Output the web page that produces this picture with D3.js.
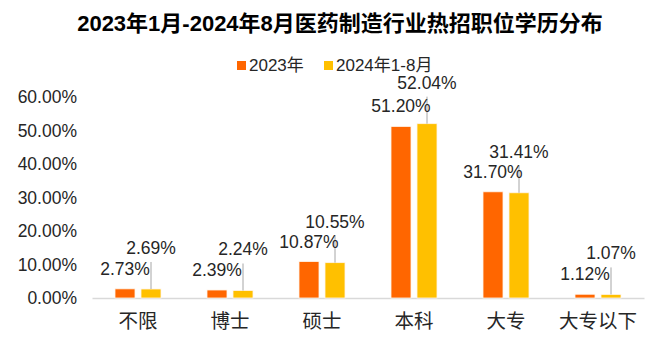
<!DOCTYPE html>
<html>
<head>
<meta charset="utf-8">
<script src="https://cdn.jsdelivr.net/npm/d3@7"></script>
<style>
  body { margin: 0; background: #fff; }
  svg text { font-family: "Liberation Sans", Arial, "Noto Sans CJK SC", sans-serif; }
</style>
</head>
<body>
<div class="chart"></div>
<script>
// data
const categories = ["不限", "博士", "硕士", "本科", "大专", "大专以下"];
const seriesNames = ["2023年", "2024年1-8月"];
const values2023 = [2.73, 2.39, 10.87, 51.20, 31.70, 1.12];
const values2024 = [2.69, 2.24, 10.55, 52.04, 31.41, 1.07];
const yTicks = [0, 10, 20, 30, 40, 50, 60];
const colors = ["#FF6600", "#FFC000"];

const width = 668, height = 349;
const margin = {top: 97, right: 24, bottom: 51, left: 92};

const svg = d3.select(".chart")
              .append("svg")
              .attr("width", width)
              .attr("height", height);

// title
svg.append("text")
   .attr("x", 340)
   .attr("y", 31)
   .attr("text-anchor", "middle")
   .attr("font-size", 22)
   .attr("font-weight", "bold")
   .attr("fill", "#000")
   .text("2023年1月-2024年8月医药制造行业热招职位学历分布");

// legend
const legend = svg.append("g").attr("transform", "translate(237, 65)");
const legendX = [0, 87];
seriesNames.forEach((name, i) => {
    const g = legend.append("g").attr("transform", `translate(${legendX[i]},0)`);
    g.append("rect")
     .attr("x", 0).attr("y", -4)
     .attr("width", 9).attr("height", 9)
     .attr("fill", colors[i]);
    g.append("text")
     .attr("x", 12).attr("y", 0)
     .attr("dy", "0.35em")
     .attr("font-size", 17)
     .attr("fill", "#262626")
     .text(name);
});

const x0 = d3.scaleBand()
             .domain(categories)
             .range([margin.left, width - margin.right]);
const groupW = 46;
const x1 = d3.scaleBand()
             .domain(seriesNames)
             .range([0, groupW])
             .paddingInner(6 / 26);
const y = d3.scaleLinear()
            .domain([0, 60])
            .range([height - margin.bottom, margin.top]);

// y axis labels
const yAxis = d3.axisLeft(y)
                .tickValues(yTicks)
                .tickSize(0)
                .tickPadding(0)
                .tickFormat(d => d.toFixed(2) + "%");
const gy = svg.append("g")
              .attr("transform", `translate(77,0)`)
              .call(yAxis);
gy.select(".domain").remove();
gy.selectAll("text")
  .attr("font-size", 17.5)
  .attr("fill", "#262626");

// x axis
const xAxis = d3.axisBottom(x0).tickSize(0).tickPadding(16);
const gx = svg.append("g")
              .attr("transform", `translate(0,${y(0)})`)
              .call(xAxis);
gx.select(".domain").attr("stroke", "#d9d9d9").attr("stroke-width", 1.5);
gx.selectAll("text")
  .attr("font-size", 19.5)
  .attr("fill", "#262626");

// bars
const series = [values2023, values2024];
const offset = (x0.bandwidth() - groupW) / 2;
series.forEach((vals, si) => {
    const g = svg.append("g");
    g.selectAll("rect")
     .data(vals)
     .join("rect")
     .attr("x", (d, i) => x0(categories[i]) + offset + x1(seriesNames[si]))
     .attr("y", d => y(d))
     .attr("width", x1.bandwidth())
     .attr("height", d => y(0) - y(d))
     .attr("fill", colors[si])
     .attr("stroke", "#fff4ea")
     .attr("stroke-width", 0.8);
});

// leader lines for second series labels
const lift2 = 35, lift1 = 14;
svg.append("g")
   .selectAll("line")
   .data(values2024)
   .join("line")
   .attr("x1", (d, i) => x0(categories[i]) + offset + x1(seriesNames[1]) + x1.bandwidth() / 2)
   .attr("x2", (d, i) => x0(categories[i]) + offset + x1(seriesNames[1]) + x1.bandwidth() / 2)
   .attr("y1", d => y(d) - lift2 + 8)
   .attr("y2", d => y(d))
   .attr("stroke", "#a6a6a6")
   .attr("stroke-width", 1);

// labels
[[values2023, lift1, 0], [values2024, lift2, 1]].forEach(([vals, lift, si]) => {
    svg.append("g")
       .selectAll("text")
       .data(vals)
       .join("text")
       .attr("x", (d, i) => x0(categories[i]) + offset + x1(seriesNames[si]) + x1.bandwidth() / 2)
       .attr("y", d => y(d) - lift)
       .attr("text-anchor", "middle")
       .attr("font-size", 17.5)
       .attr("fill", "#262626")
       .text(d => d.toFixed(2) + "%");
});
</script>
</body>
</html>
